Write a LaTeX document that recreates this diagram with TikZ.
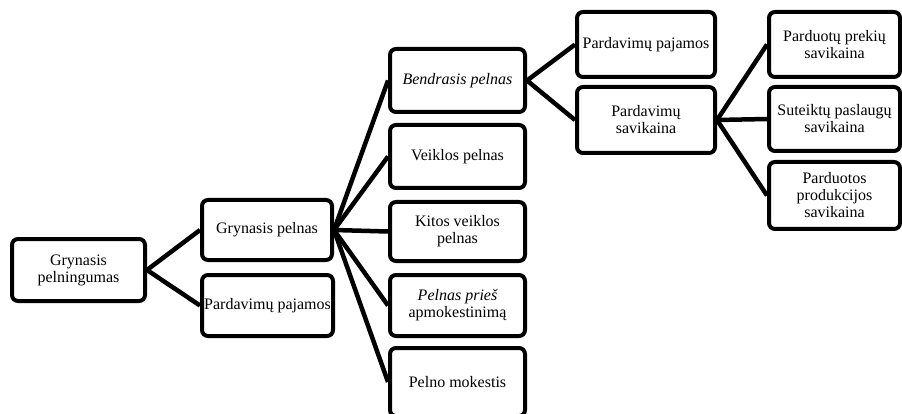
\documentclass[tikz,border=0pt]{standalone}
\usepackage{fontspec}
\setmainfont{Liberation Serif}
\usepackage{tikz}

\begin{document}
\begin{tikzpicture}[x=1pt, y=-1pt,
		box/.style={draw, line width=4pt, rounded corners=6pt, align=center, inner sep=0pt, font=\fontsize{16}{17}\selectfont},
		link/.style={line width=4.5pt}]
		
		\useasboundingbox (0,0) rectangle (902,414);
		
		% Root
		\node[box, minimum width=133pt, minimum height=62pt] (rootBox) at (78.5,270) {Grynasis\\pelningumas};
		
		% Second level
		\node[box, minimum width=130pt, minimum height=60pt] (grynPelnas) at (267,230) {Grynasis pelnas};
		\node[box, minimum width=131pt, minimum height=61pt] (pardPaj) at (267.5,305.5) {Pardavimų pajamos};
		
		% Third level
		\node[box, minimum width=135pt, minimum height=63pt] (bendrPelnas) at (457.5,80.5) {\itshape Bendrasis pelnas};
		\node[box, minimum width=135pt, minimum height=63pt] (veiklPelnas) at (457.5,156.5) {Veiklos pelnas};
		\node[box, minimum width=135pt, minimum height=59pt] (kitosPelnas) at (457.5,231.5) {Kitos veiklos\\pelnas};
		\node[box, minimum width=135pt, minimum height=61pt] (pelnasPries) at (457.5,305.5) {\itshape Pelnas prieš\\apmokestinimą};
		\node[box, minimum width=135pt, minimum height=68pt] (pelnoMok) at (457.5,382) {Pelno mokestis};
		
		% Fourth level
		\node[box, minimum width=138pt, minimum height=65pt] (pardPajB) at (646,44.5) {Pardavimų pajamos};
		\node[box, minimum width=138pt, minimum height=66pt] (pardSav) at (646,120) {Pardavimų\\savikaina};
		
		% Fifth level
		\node[box, minimum width=131pt, minimum height=65pt] (prekSav) at (834.5,44.5) {Parduotų prekių\\savikaina};
		\node[box, minimum width=131pt, minimum height=64pt] (paslSav) at (834.5,119) {Suteiktų paslaugų\\savikaina};
		\node[box, minimum width=131pt, minimum height=67pt] (prodSav) at (834.5,195.5) {Parduotos\\produkcijos\\savikaina};
		
		% Connectors
		\draw[link] (rootBox.east) -- (grynPelnas.west);
		\draw[link] (rootBox.east) -- (pardPaj.west);
		
		\foreach \child in {bendrPelnas, veiklPelnas, kitosPelnas, pelnasPries, pelnoMok}
			\draw[link] (grynPelnas.east) -- (\child.west);
		
		\draw[link] (bendrPelnas.east) -- (pardPajB.west);
		\draw[link] (bendrPelnas.east) -- (pardSav.west);
		
		\foreach \child in {prekSav, paslSav, prodSav}
			\draw[link] (pardSav.east) -- (\child.west);
		
	\end{tikzpicture}
\end{document}
